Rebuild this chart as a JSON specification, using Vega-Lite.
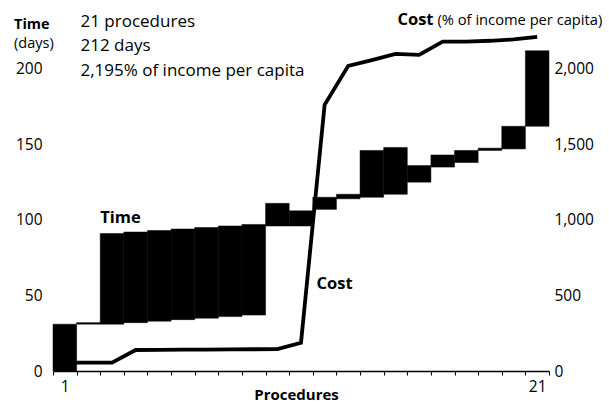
{
  "$schema": "https://vega.github.io/schema/vega-lite/v6.json",
  "width": 496,
  "height": 355,
  "autosize": {"type": "none"},
  "padding": {"left": 53, "top": 16, "right": 60, "bottom": 33},
  "background": "white",
  "config": {
    "font": "Open Sans",
    "view": {"stroke": null},
    "axis": {"grid": false, "labelColor": "#000", "titleColor": "#000", "labelFontSize": 15.5, "titleFontSize": 16}
  },
  "title": {
    "text": "Time",
    "subtitle": "(days)",
    "anchor": "start",
    "frame": "group",
    "dx": -39,
    "dy": 40,
    "offset": 0,
    "fontSize": 14.5,
    "fontWeight": "bold",
    "color": "#000",
    "subtitleFontSize": 14.5,
    "subtitleFontWeight": "normal",
    "subtitleColor": "#000",
    "subtitlePadding": 4
  },
  "datasets": {
    "procs": [
      {"p": 1, "start": 0, "end": 31, "cost": 55},
      {"p": 2, "start": 31, "end": 32, "cost": 55},
      {"p": 3, "start": 31, "end": 91, "cost": 55},
      {"p": 4, "start": 32, "end": 92, "cost": 139},
      {"p": 5, "start": 33, "end": 93, "cost": 140},
      {"p": 6, "start": 34, "end": 94, "cost": 141},
      {"p": 7, "start": 35, "end": 95, "cost": 142},
      {"p": 8, "start": 36, "end": 96, "cost": 143},
      {"p": 9, "start": 37, "end": 97, "cost": 144},
      {"p": 10, "start": 96, "end": 111, "cost": 145},
      {"p": 11, "start": 96, "end": 106, "cost": 187},
      {"p": 12, "start": 107, "end": 115, "cost": 1762},
      {"p": 13, "start": 114, "end": 117, "cost": 2020},
      {"p": 14, "start": 115, "end": 146, "cost": 2058},
      {"p": 15, "start": 117, "end": 148, "cost": 2099},
      {"p": 16, "start": 125, "end": 136, "cost": 2093},
      {"p": 17, "start": 135, "end": 143, "cost": 2181},
      {"p": 18, "start": 138, "end": 146, "cost": 2181},
      {"p": 19, "start": 146, "end": 147.5, "cost": 2186},
      {"p": 20, "start": 147, "end": 162, "cost": 2195},
      {"p": 21, "start": 162, "end": 212, "cost": 2212}
    ],
    "notes": [
      {"p": 3, "v": 97.8, "label": "Time"},
      {"p": 12, "v": 54.3, "label": "Cost"}
    ]
  },
  "layer": [
    {
      "data": {"name": "procs"},
      "mark": {"type": "bar", "color": "#000", "stroke": "#000", "strokeWidth": 0.5},
      "encoding": {
        "x": {
          "field": "p",
          "type": "ordinal",
          "scale": {"paddingInner": 0, "paddingOuter": 0},
          "axis": {
            "orient": "bottom",
            "title": "Procedures",
            "titleFontWeight": "bold",
            "titleFontSize": 15,
            "titleX": 243,
            "titleY": 28,
            "titleAlign": "center",
            "titleBaseline": "alphabetic",
            "labelAngle": 0,
            "labelExpr": "datum.value == 1 || datum.value == 21 ? datum.label : ''",
            "tickBand": "extent",
            "tickSize": 4,
            "tickColor": "#000",
            "domainColor": "#000",
            "domainWidth": 1.5,
            "labelPadding": 4
          }
        },
        "y": {
          "field": "start",
          "type": "quantitative",
          "scale": {"domain": [0, 235]},
          "axis": {
            "orient": "left",
            "values": [0, 50, 100, 150, 200],
            "domain": false,
            "ticks": false,
            "tickSize": 0,
            "labelPadding": 11,
            "title": ["21 procedures", "212 days", "2,195% of income per capita"],
            "titleAngle": 0,
            "titleAlign": "left",
            "titleBaseline": "alphabetic",
            "titleX": 27,
            "titleY": 10,
            "titleFontSize": 17,
            "titleFontWeight": "normal",
            "titleLineHeight": 24.5
          }
        },
        "y2": {"field": "end"}
      }
    },
    {
      "data": {"name": "procs"},
      "mark": {"type": "line", "color": "#000", "strokeWidth": 3.8},
      "encoding": {
        "x": {
          "field": "p",
          "type": "ordinal",
          "axis": {
            "orient": "top",
            "labels": false,
            "ticks": false,
            "domain": false,
            "title": "(% of income per capita)",
            "titleX": 384,
            "titleY": 8,
            "titleAlign": "left",
            "titleBaseline": "alphabetic",
            "titleAngle": 0,
            "titleFontSize": 14.7,
            "titleFontWeight": "normal"
          }
        },
        "y": {
          "field": "cost",
          "type": "quantitative",
          "scale": {"domain": [0, 2350]},
          "axis": {
            "orient": "right",
            "values": [0, 500, 1000, 1500, 2000],
            "format": ",d",
            "domain": false,
            "ticks": false,
            "tickSize": 0,
            "labelPadding": 5,
            "title": "Cost",
            "titleAngle": 0,
            "titleAlign": "right",
            "titleBaseline": "alphabetic",
            "titleX": -116,
            "titleY": 8,
            "titleFontSize": 16.5,
            "titleFontWeight": "bold"
          }
        }
      }
    },
    {
      "data": {"name": "notes"},
      "transform": [{"filter": "datum.label == 'Time'"}],
      "mark": {"type": "text", "align": "left", "baseline": "alphabetic", "fontSize": 16.5, "fontWeight": "bold", "color": "#000"},
      "encoding": {
        "x": {"field": "p", "type": "ordinal", "bandPosition": 0, "axis": null},
        "y": {"field": "v", "type": "quantitative", "scale": {"domain": [0, 235]}, "axis": null},
        "text": {"field": "label"}
      }
    },
    {
      "data": {"name": "notes"},
      "transform": [{"filter": "datum.label == 'Cost'"}],
      "mark": {"type": "text", "align": "left", "baseline": "alphabetic", "fontSize": 16.5, "fontWeight": "bold", "color": "#000"},
      "encoding": {
        "x": {"field": "p", "type": "ordinal", "bandPosition": 0.16, "axis": null},
        "y": {"field": "v", "type": "quantitative", "scale": {"domain": [0, 235]}, "axis": null},
        "text": {"field": "label"}
      }
    }
  ],
  "resolve": {"scale": {"y": "independent"}, "axis": {"x": "independent"}}
}
